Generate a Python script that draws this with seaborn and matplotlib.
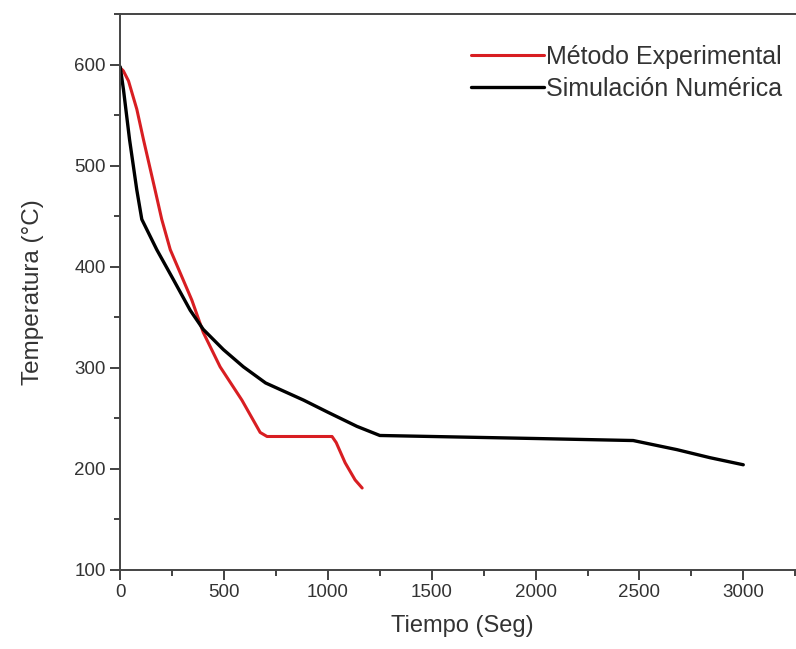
import numpy as np
import pandas as pd
import matplotlib.pyplot as plt
import seaborn as sns
from matplotlib.ticker import MultipleLocator

# valores
t_exp = [0, 15, 40, 80, 112, 168, 200, 241, 345, 400, 481, 586, 674, 707, 1020, 1040, 1083, 1131, 1165]
T_exp = [597, 594, 584, 556, 526, 476, 447, 417, 367, 335, 301, 268, 236, 232, 232, 226, 206, 189, 181]

t_sim = [0, 16, 45, 80, 104, 176, 257, 337, 400, 497, 593, 700, 883, 1000, 1140, 1250,
         1500, 2000, 2470, 2680, 2840, 3000]
T_sim = [598, 575, 526, 476, 447, 417, 387, 357, 338, 318, 301, 285, 268, 256, 242, 233,
         232, 230, 228, 219, 211, 204]

labels = ["Método Experimental", "Simulación Numérica"]

exp = pd.DataFrame({"t": t_exp, "T": T_exp})
sim = pd.DataFrame({"t": t_sim, "T": T_sim})

sns.set_style("ticks")
plt.rcParams['font.family'] = ['Liberation Sans', 'DejaVu Sans']

fig = plt.figure(figsize=(7.96, 6.49), dpi=100)
ax = fig.add_axes([0.151, 0.122, 0.86, 0.856])

sns.lineplot(data=exp, x="t", y="T", ax=ax, color="#d81e22", lw=2.2, label=labels[0], sort=False)
sns.lineplot(data=sim, x="t", y="T", ax=ax, color="black", lw=2.4, label=labels[1], sort=False)

ax.set_xlim(0, 3296)
ax.set_ylim(100, 650)
ax.xaxis.set_major_locator(MultipleLocator(500))
ax.xaxis.set_minor_locator(MultipleLocator(250))
ax.yaxis.set_major_locator(MultipleLocator(100))
ax.yaxis.set_minor_locator(MultipleLocator(50))
ax.tick_params(which="major", direction="out", length=7, width=1.3, labelsize=13.5,
               colors="#333333")
ax.tick_params(which="minor", direction="out", length=4, width=1.3, colors="#333333")
ax.tick_params(top=False, right=False)
for s in ax.spines.values():
    s.set_linewidth(1.4)
    s.set_color("#444444")

ax.set_xlabel("Tiempo (Seg)", fontsize=17, color="#333333", labelpad=10)
ax.set_ylabel("Temperatura (°C)", fontsize=17.5, color="#333333", labelpad=22)

leg = ax.legend(loc="upper right", frameon=False, fontsize=18, handlelength=2.9,
                handletextpad=0.1, labelspacing=0.3, bbox_to_anchor=(1.0, 0.985))
for txt in leg.get_texts():
    txt.set_color("#333333")

fig.savefig("out.png", dpi=100)
